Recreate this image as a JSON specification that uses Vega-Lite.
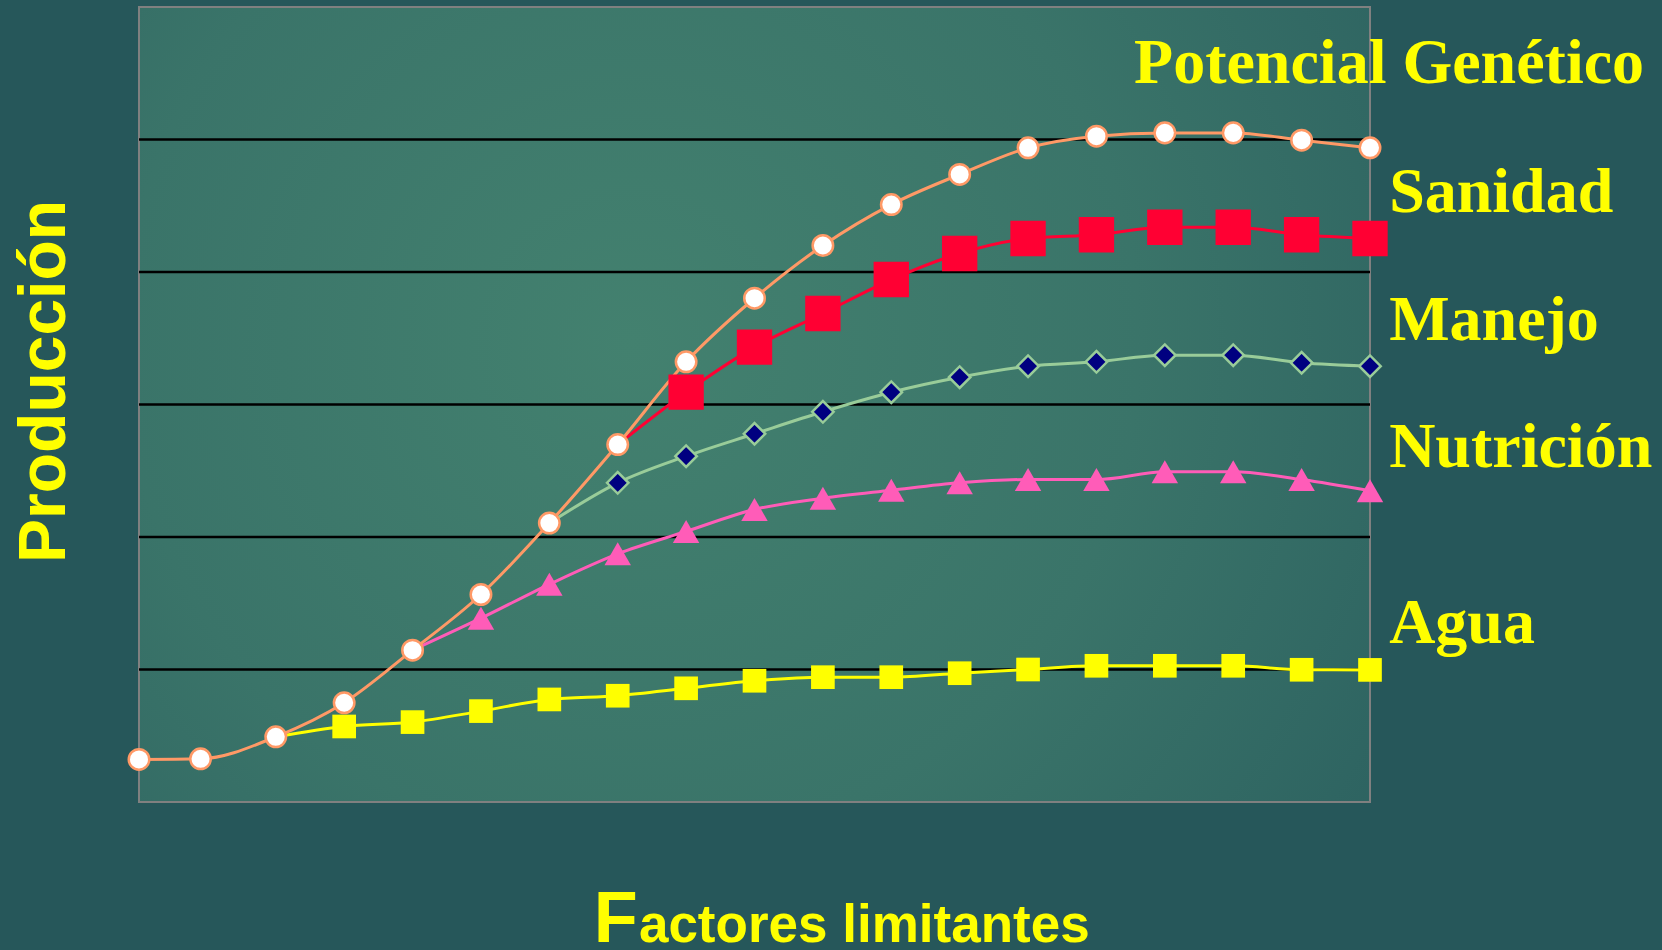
{
  "$schema": "https://vega.github.io/schema/vega-lite/v6.json",
  "description": "Producción frente a factores limitantes: potencial genético, sanidad, manejo, nutrición y agua.",
  "width": 1231,
  "height": 795,
  "autosize": "none",
  "padding": {"left": 139, "top": 7, "right": 292, "bottom": 148},
  "background": "#26575A",
  "datasets": {
    "series": [
      {"serie": "Agua", "x": 2, "y": 0.492},
      {"serie": "Agua", "x": 3, "y": 0.57},
      {"serie": "Agua", "x": 4, "y": 0.603},
      {"serie": "Agua", "x": 5, "y": 0.686},
      {"serie": "Agua", "x": 6, "y": 0.774},
      {"serie": "Agua", "x": 7, "y": 0.802},
      {"serie": "Agua", "x": 8, "y": 0.858},
      {"serie": "Agua", "x": 9, "y": 0.915},
      {"serie": "Agua", "x": 10, "y": 0.942},
      {"serie": "Agua", "x": 11, "y": 0.942},
      {"serie": "Agua", "x": 12, "y": 0.972},
      {"serie": "Agua", "x": 13, "y": 1.0},
      {"serie": "Agua", "x": 14, "y": 1.028},
      {"serie": "Agua", "x": 15, "y": 1.028},
      {"serie": "Agua", "x": 16, "y": 1.028},
      {"serie": "Agua", "x": 17, "y": 0.998},
      {"serie": "Agua", "x": 18, "y": 0.997},
      {"serie": "Nutrición", "x": 4, "y": 1.146},
      {"serie": "Nutrición", "x": 5, "y": 1.387},
      {"serie": "Nutrición", "x": 6, "y": 1.643},
      {"serie": "Nutrición", "x": 7, "y": 1.873},
      {"serie": "Nutrición", "x": 8, "y": 2.042},
      {"serie": "Nutrición", "x": 9, "y": 2.208},
      {"serie": "Nutrición", "x": 10, "y": 2.293},
      {"serie": "Nutrición", "x": 11, "y": 2.353},
      {"serie": "Nutrición", "x": 12, "y": 2.409},
      {"serie": "Nutrición", "x": 13, "y": 2.434},
      {"serie": "Nutrición", "x": 14, "y": 2.434},
      {"serie": "Nutrición", "x": 15, "y": 2.492},
      {"serie": "Nutrición", "x": 16, "y": 2.492},
      {"serie": "Nutrición", "x": 17, "y": 2.434},
      {"serie": "Nutrición", "x": 18, "y": 2.349},
      {"serie": "Manejo", "x": 6, "y": 2.105},
      {"serie": "Manejo", "x": 7, "y": 2.409},
      {"serie": "Manejo", "x": 8, "y": 2.61},
      {"serie": "Manejo", "x": 9, "y": 2.779},
      {"serie": "Manejo", "x": 10, "y": 2.945},
      {"serie": "Manejo", "x": 11, "y": 3.093},
      {"serie": "Manejo", "x": 12, "y": 3.206},
      {"serie": "Manejo", "x": 13, "y": 3.289},
      {"serie": "Manejo", "x": 14, "y": 3.322},
      {"serie": "Manejo", "x": 15, "y": 3.372},
      {"serie": "Manejo", "x": 16, "y": 3.372},
      {"serie": "Manejo", "x": 17, "y": 3.315},
      {"serie": "Manejo", "x": 18, "y": 3.289},
      {"serie": "Sanidad", "x": 7, "y": 2.698},
      {"serie": "Sanidad", "x": 8, "y": 3.093},
      {"serie": "Sanidad", "x": 9, "y": 3.433},
      {"serie": "Sanidad", "x": 10, "y": 3.687},
      {"serie": "Sanidad", "x": 11, "y": 3.943},
      {"serie": "Sanidad", "x": 12, "y": 4.14},
      {"serie": "Sanidad", "x": 13, "y": 4.253},
      {"serie": "Sanidad", "x": 14, "y": 4.281},
      {"serie": "Sanidad", "x": 15, "y": 4.338},
      {"serie": "Sanidad", "x": 16, "y": 4.338},
      {"serie": "Sanidad", "x": 17, "y": 4.281},
      {"serie": "Sanidad", "x": 18, "y": 4.253},
      {"serie": "Potencial Genético", "x": 0, "y": 0.321},
      {"serie": "Potencial Genético", "x": 0.9, "y": 0.326},
      {"serie": "Potencial Genético", "x": 2, "y": 0.492},
      {"serie": "Potencial Genético", "x": 3, "y": 0.749},
      {"serie": "Potencial Genético", "x": 4, "y": 1.146},
      {"serie": "Potencial Genético", "x": 5, "y": 1.566},
      {"serie": "Potencial Genético", "x": 6, "y": 2.105},
      {"serie": "Potencial Genético", "x": 7, "y": 2.698},
      {"serie": "Potencial Genético", "x": 8, "y": 3.322},
      {"serie": "Potencial Genético", "x": 9, "y": 3.802},
      {"serie": "Potencial Genético", "x": 10, "y": 4.2},
      {"serie": "Potencial Genético", "x": 11, "y": 4.509},
      {"serie": "Potencial Genético", "x": 12, "y": 4.736},
      {"serie": "Potencial Genético", "x": 13, "y": 4.937},
      {"serie": "Potencial Genético", "x": 14, "y": 5.025},
      {"serie": "Potencial Genético", "x": 15, "y": 5.05},
      {"serie": "Potencial Genético", "x": 16, "y": 5.05},
      {"serie": "Potencial Genético", "x": 17, "y": 4.995},
      {"serie": "Potencial Genético", "x": 18, "y": 4.937}
    ],
    "rejilla": [{"y": 1}, {"y": 2}, {"y": 3}, {"y": 4}, {"y": 5}],
    "etiquetas": [
      {"texto": "Potencial Genético", "x": 14.55, "y": 5.424},
      {"texto": "Sanidad", "x": 18.28, "y": 4.455},
      {"texto": "Manejo", "x": 18.28, "y": 3.487},
      {"texto": "Nutrición", "x": 18.28, "y": 2.531},
      {"texto": "Agua", "x": 18.28, "y": 1.202}
    ]
  },
  "layer": [
    {
      "data": {"values": [{}]},
      "mark": {
        "type": "rect",
        "fill": {
          "gradient": "radial",
          "x1": 0.4, "y1": 0.45, "x2": 0.4, "y2": 0.45,
          "r1": 0, "r2": 0.75,
          "stops": [
            {"offset": 0, "color": "#43816F"},
            {"offset": 0.55, "color": "#3A7469"},
            {"offset": 1, "color": "#2C6160"}
          ]
        },
        "stroke": "#808080",
        "strokeWidth": 2
      },
      "encoding": {}
    },
    {
      "data": {"name": "rejilla"},
      "mark": {"type": "rule", "color": "#000000", "strokeWidth": 2.5},
      "encoding": {
        "y": {"field": "y", "type": "quantitative", "scale": {"domain": [0, 6], "nice": false, "zero": false}, "axis": null}
      }
    },
    {
      "data": {"name": "series"},
      "mark": {"type": "line", "interpolate": "monotone", "strokeWidth": 3},
      "encoding": {
        "x": {"field": "x", "type": "quantitative", "scale": {"domain": [0, 18], "nice": false, "zero": false}, "axis": null},
        "y": {"field": "y", "type": "quantitative", "scale": {"domain": [0, 6], "nice": false, "zero": false}, "axis": null},
        "color": {
          "field": "serie", "type": "nominal",
          "scale": {
            "domain": ["Agua", "Nutrición", "Manejo", "Sanidad", "Potencial Genético"],
            "range": ["#FFFF00", "#FF5CB8", "#99CC99", "#FF0033", "#FF9966"]
          },
          "legend": null
        }
      }
    },
    {
      "data": {"name": "series"},
      "transform": [{"filter": "datum.serie == 'Agua' && datum.x >= 3"}],
      "mark": {"type": "point", "shape": "square", "filled": true, "size": 560, "color": "#FFFF00", "opacity": 1},
      "encoding": {
        "x": {"field": "x", "type": "quantitative", "scale": {"domain": [0, 18], "nice": false, "zero": false}, "axis": null},
        "y": {"field": "y", "type": "quantitative", "scale": {"domain": [0, 6], "nice": false, "zero": false}, "axis": null}
      }
    },
    {
      "data": {"name": "series"},
      "transform": [{"filter": "datum.serie == 'Nutrición' && datum.x >= 5"}],
      "mark": {"type": "point", "shape": "triangle-up", "filled": true, "size": 700, "color": "#FF5CB8", "opacity": 1},
      "encoding": {
        "x": {"field": "x", "type": "quantitative", "scale": {"domain": [0, 18], "nice": false, "zero": false}, "axis": null},
        "y": {"field": "y", "type": "quantitative", "scale": {"domain": [0, 6], "nice": false, "zero": false}, "axis": null}
      }
    },
    {
      "data": {"name": "series"},
      "transform": [{"filter": "datum.serie == 'Manejo' && datum.x >= 7"}],
      "mark": {"type": "point", "shape": "diamond", "filled": true, "size": 460, "fill": "#000080", "stroke": "#99CC99", "strokeWidth": 2.5, "opacity": 1},
      "encoding": {
        "x": {"field": "x", "type": "quantitative", "scale": {"domain": [0, 18], "nice": false, "zero": false}, "axis": null},
        "y": {"field": "y", "type": "quantitative", "scale": {"domain": [0, 6], "nice": false, "zero": false}, "axis": null}
      }
    },
    {
      "data": {"name": "series"},
      "transform": [{"filter": "datum.serie == 'Sanidad' && datum.x >= 8"}],
      "mark": {"type": "point", "shape": "square", "filled": true, "size": 1250, "color": "#FF0033", "opacity": 1},
      "encoding": {
        "x": {"field": "x", "type": "quantitative", "scale": {"domain": [0, 18], "nice": false, "zero": false}, "axis": null},
        "y": {"field": "y", "type": "quantitative", "scale": {"domain": [0, 6], "nice": false, "zero": false}, "axis": null}
      }
    },
    {
      "data": {"name": "series"},
      "transform": [{"filter": "datum.serie == 'Potencial Genético'"}],
      "mark": {"type": "point", "shape": "circle", "filled": true, "size": 420, "fill": "#FFFFFF", "stroke": "#FF9966", "strokeWidth": 2.5, "opacity": 1},
      "encoding": {
        "x": {"field": "x", "type": "quantitative", "scale": {"domain": [0, 18], "nice": false, "zero": false}, "axis": null},
        "y": {"field": "y", "type": "quantitative", "scale": {"domain": [0, 6], "nice": false, "zero": false}, "axis": null}
      }
    },
    {
      "data": {"name": "etiquetas"},
      "mark": {"type": "text", "font": "Liberation Serif", "fontWeight": "bold", "fontSize": 64, "color": "#FFFF00", "align": "left", "baseline": "alphabetic"},
      "encoding": {
        "x": {"field": "x", "type": "quantitative", "scale": {"domain": [0, 18], "nice": false, "zero": false}, "axis": null},
        "y": {"field": "y", "type": "quantitative", "scale": {"domain": [0, 6], "nice": false, "zero": false}, "axis": null},
        "text": {"field": "texto"}
      }
    },
    {
      "data": {"values": [{"texto": "Producción", "x": -1.086, "y": 3.174}]},
      "mark": {"type": "text", "font": "Liberation Sans", "fontWeight": "bold", "fontSize": 66, "color": "#FFFF00", "align": "center", "baseline": "alphabetic", "angle": 270},
      "encoding": {
        "x": {"field": "x", "type": "quantitative", "scale": {"domain": [0, 18], "nice": false, "zero": false}, "axis": null},
        "y": {"field": "y", "type": "quantitative", "scale": {"domain": [0, 6], "nice": false, "zero": false}, "axis": null},
        "text": {"field": "texto"}
      }
    },
    {
      "data": {"values": [{"texto": "F", "x": 6.65, "y": -1.06}]},
      "mark": {"type": "text", "font": "Liberation Sans", "fontWeight": "bold", "fontSize": 72, "color": "#FFFF00", "align": "left", "baseline": "alphabetic"},
      "encoding": {
        "x": {"field": "x", "type": "quantitative", "scale": {"domain": [0, 18], "nice": false, "zero": false}, "axis": null},
        "y": {"field": "y", "type": "quantitative", "scale": {"domain": [0, 6], "nice": false, "zero": false}, "axis": null},
        "text": {"field": "texto"}
      }
    },
    {
      "data": {"values": [{"texto": "actores limitantes", "x": 7.31, "y": -1.06}]},
      "mark": {"type": "text", "font": "Liberation Sans", "fontWeight": "bold", "fontSize": 53, "color": "#FFFF00", "align": "left", "baseline": "alphabetic"},
      "encoding": {
        "x": {"field": "x", "type": "quantitative", "scale": {"domain": [0, 18], "nice": false, "zero": false}, "axis": null},
        "y": {"field": "y", "type": "quantitative", "scale": {"domain": [0, 6], "nice": false, "zero": false}, "axis": null},
        "text": {"field": "texto"}
      }
    }
  ],
  "config": {
    "view": {"stroke": null},
    "legend": {"disable": true}
  }
}
